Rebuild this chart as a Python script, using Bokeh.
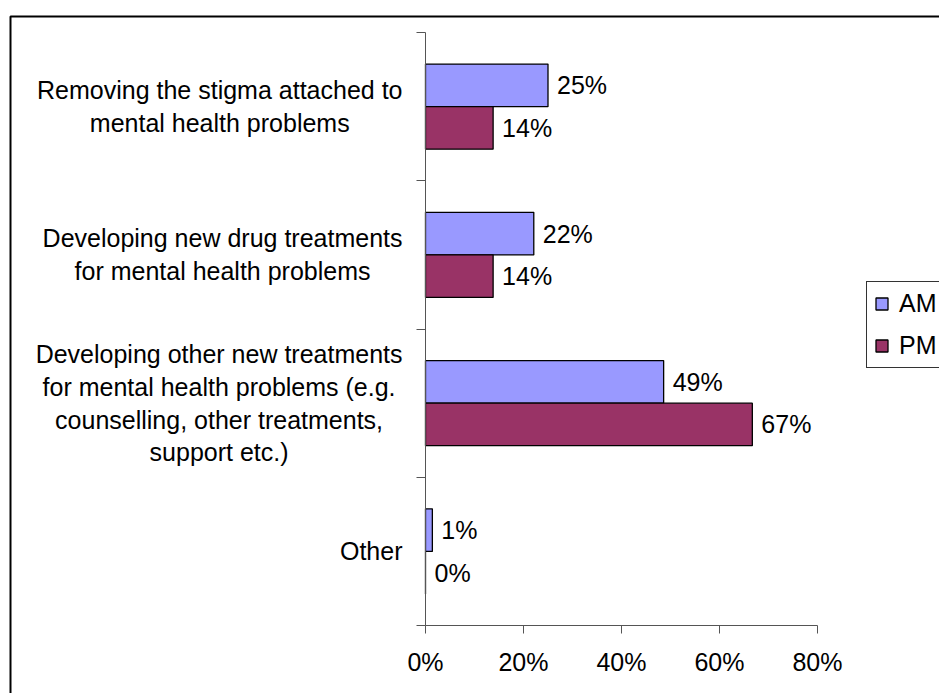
from bokeh.plotting import figure
from bokeh.models import (ColumnDataSource, Range1d, FixedTicker, Legend, LegendItem,
                          BoxAnnotation)
from bokeh.core.properties import value
from bokeh.embed import file_html
from bokeh.resources import INLINE

categories = [
    "Removing the stigma attached to\nmental health problems",
    "Developing new drug treatments\nfor mental health problems",
    "Developing other new treatments\nfor mental health problems (e.g.\ncounselling, other treatments,\nsupport etc.)",
    "Other",
]
series = ["AM", "PM"]
am_values = [25.0, 22.1, 48.6, 1.4]
pm_values = [13.8, 13.8, 66.7, 0.0]
am_labels = ["25%", "22%", "49%", "1%"]
pm_labels = ["14%", "14%", "67%", "0%"]
x_ticks = [0, 20, 40, 60, 80]
x_tick_labels = ["0%", "20%", "40%", "60%", "80%"]
colors = ["#9999FF", "#993366"]

# ---- layout (pixels) ----
W, H = 939, 693
AXIS_X_PX = 425        # x of 0% line
AXIS_BOTTOM_PX = 625   # y of x-axis
AXIS_TOP_PX = 32       # y of top of value axis
PX_PER_PCT = 4.9
n = len(categories)
PX_PER_CAT = (AXIS_BOTTOM_PX - AXIS_TOP_PX) / n

FONT = "Liberation Sans"
FS = "25px"
bar_h = 0.287
centers = [n - i - 0.5 for i in range(n)]

x_range = Range1d(-AXIS_X_PX / PX_PER_PCT, (W - AXIS_X_PX) / PX_PER_PCT)
y_range = Range1d(-(H - AXIS_BOTTOM_PX) / PX_PER_CAT, n + AXIS_TOP_PX / PX_PER_CAT)

p = figure(width=W, height=H, output_backend="svg", toolbar_location=None,
           x_range=x_range, y_range=y_range,
           min_border_left=0, min_border_right=0, min_border_top=0,
           min_border_bottom=0, outline_line_color=None)
p.background_fill_color = "white"
p.border_fill_color = "white"
p.xgrid.visible = False
p.ygrid.visible = False

renderers = []
for k, (vals, labs, col) in enumerate([(am_values, am_labels, colors[0]),
                                      (pm_values, pm_labels, colors[1])]):
    off = bar_h / 2 if k == 0 else -bar_h / 2
    src = ColumnDataSource(dict(y=[c + off for c in centers], right=vals, lab=labs))
    r = p.hbar(y="y", left=0, right="right", height=bar_h, source=src,
               fill_color=col, line_color="black", line_width=1.3)
    renderers.append(r)
    p.text(x="right", y="y", text="lab", source=src, x_offset=9,
           text_baseline="middle", text_align="left",
           text_font=value(FONT), text_font_size=FS, text_color="black")

# category labels: right-anchored blocks with centred lines
cat_src = ColumnDataSource(dict(x=[0] * n, y=centers, t=categories))
p.text(x="x", y="y", text="t", source=cat_src, x_offset=-23,
       anchor="center_right", text_align="center", text_baseline="middle",
       text_line_height=1.17,
       text_font=value(FONT), text_font_size=FS, text_color="black")

axis_color = "#555555"
# x axis
xa = p.xaxis[0]
xa.fixed_location = 0
xa.bounds = (x_ticks[0], x_ticks[-1])
xa.ticker = FixedTicker(ticks=x_ticks, minor_ticks=[])
xa.major_label_overrides = {t: l for t, l in zip(x_ticks, x_tick_labels)}
xa.axis_line_color = axis_color
xa.major_tick_line_color = axis_color
xa.major_tick_out = 8
xa.major_tick_in = 0
xa.minor_tick_line_color = None
xa.major_label_standoff = 14
xa.major_label_text_font = FONT
xa.major_label_text_font_size = FS
xa.major_label_text_color = "black"

# y axis (category boundaries as ticks, no labels)
ya = p.yaxis[0]
ya.fixed_location = 0
ya.bounds = (0, n)
ya.ticker = FixedTicker(ticks=[], minor_ticks=[float(i) for i in range(n + 1)])
ya.axis_line_color = axis_color
ya.major_tick_line_color = None
ya.major_label_text_font_size = "0px"
ya.minor_tick_line_color = axis_color
ya.minor_tick_out = 9
ya.minor_tick_in = 0

legend = Legend(items=[LegendItem(label=s, renderers=[r]) for s, r in zip(series, renderers)],
                location=(866, H - 368), orientation="vertical",
                label_text_font=FONT, label_text_font_size=FS, label_text_color="black",
                glyph_width=15, glyph_height=15, label_height=26, label_standoff=10,
                spacing=13, padding=7, margin=0,
                border_line_color="#333333", border_line_width=1.5, border_line_alpha=1,
                background_fill_color="white", background_fill_alpha=1)
p.add_layout(legend, "center")

border = BoxAnnotation(left=10, right=W + 50, top=H - 16, bottom=-50,
                       left_units="screen", right_units="screen",
                       top_units="screen", bottom_units="screen",
                       fill_color=None, fill_alpha=0,
                       line_color="black", line_alpha=1, line_width=2)
p.add_layout(border)

open("out.html", "w").write(file_html(p, INLINE))
